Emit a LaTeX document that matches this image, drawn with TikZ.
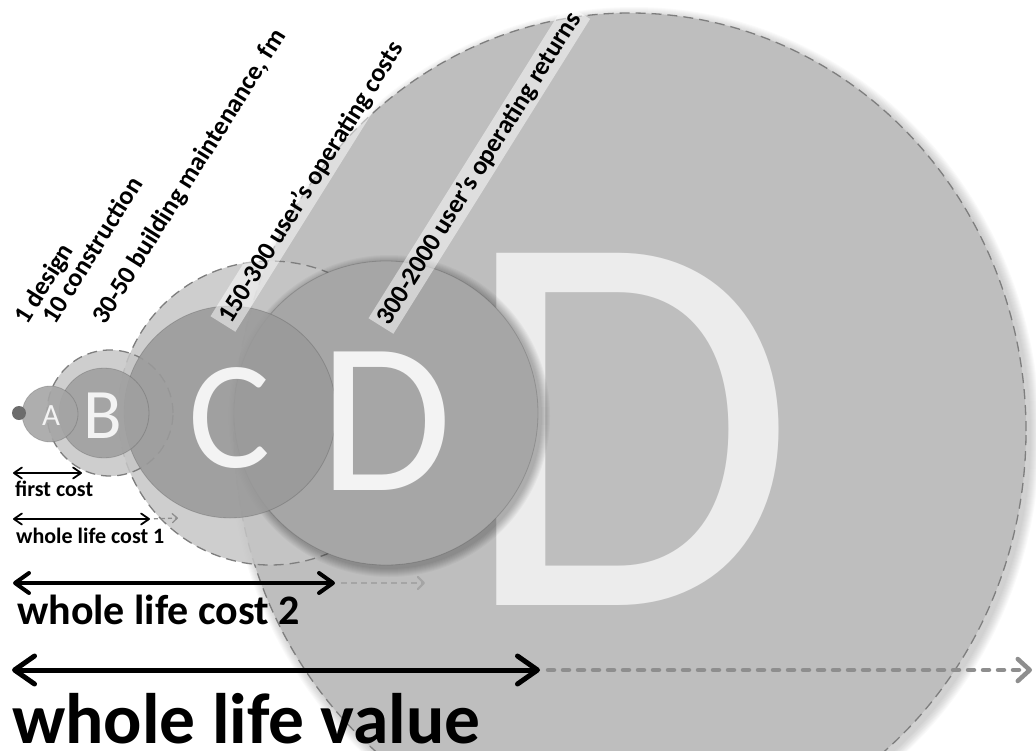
\documentclass[tikz,border=0pt]{standalone}
\usepackage{fontspec}
\setmainfont{Carlito}
\usetikzlibrary{arrows.meta}
\newcommand\fsz[1]{\fontsize{#1pt}{#1pt}\selectfont}
\definecolor{outerfill}{HTML}{BEBEBE}
\definecolor{ringfill}{HTML}{C6C6C6}
\definecolor{dashcol}{HTML}{7E7E7E}
\definecolor{cfill}{HTML}{9A9A9A}
\definecolor{dfill}{HTML}{A6A6A6}
\definecolor{bfill}{HTML}{A0A0A0}
\definecolor{afill}{HTML}{A5A5A5}
\definecolor{dotfill}{HTML}{6C6C6C}
\definecolor{glyph}{HTML}{F3F3F3}
\definecolor{bigglyph}{HTML}{ECECEC}
\definecolor{extgrey}{HTML}{8E8E8E}
\begin{document}
\begin{tikzpicture}[x=1pt,y=-1pt,
  ring/.style={fill=ringfill, fill opacity=0.85, draw=dashcol, line width=1.3pt, dash pattern=on 10pt off 6pt},
  disc/.style={draw=black, draw opacity=0.15, line width=0.8pt},
  letter/.style={text=glyph, inner sep=0pt, anchor=base},
  phase/.style={font={\bfseries\fsz{26}}, rotate=58, anchor=base west, inner sep=0pt},
  band/.style={phase, fill=white, fill opacity=0.5, text opacity=1, inner xsep=4pt, inner ysep=3pt},
  costarrS/.style={line width=1.8pt, line cap=round, {Straight Barb[round,length=8pt,width=11pt]}-{Straight Barb[round,length=8pt,width=11pt]}},
  costarrM/.style={line width=4pt, line cap=round, {Straight Barb[round,length=14pt,width=20pt]}-{Straight Barb[round,length=14pt,width=20pt]}},
  costarrL/.style={line width=5pt, line cap=round, {Straight Barb[round,length=20pt,width=28pt]}-{Straight Barb[round,length=20pt,width=28pt]}},
  extS/.style={draw=extgrey, line width=1.3pt, dash pattern=on 4pt off 3pt, -{Straight Barb[round,length=5pt,width=9pt]}},
  extM/.style={draw=extgrey!80!white, line width=2.2pt, dash pattern=on 6pt off 4pt, -{Straight Barb[round,length=6pt,width=12pt]}},
  extL/.style={draw=extgrey, line width=4.5pt, line cap=round, dash pattern=on 6pt off 9pt, -{Straight Barb[round,length=12pt,width=22pt]}},
  caption/.style={anchor=base west, inner sep=0pt, text depth=0pt},
]
\useasboundingbox (0,0) rectangle (1036,750);

% soft shadow and body of the outer value field
\foreach \k in {1,...,10}
  \fill[black, opacity=0.018] (634,435) ellipse [x radius={396pt+\k*1pt}, y radius={418pt+\k*1pt}];
\fill[outerfill] (630,431) ellipse [x radius=396pt, y radius=418pt];
\node[letter, text=bigglyph, font=\fsz{549}] (Dbig) at (628,605) {D};
\draw[dashcol, line width=1.3pt, dash pattern=on 10pt off 6pt] (630,431) ellipse [x radius=396pt, y radius=418pt];

% dashed upper ranges
\draw[ring] (270,413) circle (152pt);
\draw[ring] (110,413) circle (63pt);

% solid discs
\foreach \k in {1,...,9}
  \fill[black, opacity=0.03] (389,416) circle ({152pt+\k*1pt});
\filldraw[disc, fill=dfill] (386,413) circle (152pt);
\filldraw[disc, fill=cfill, fill opacity=0.88] (230,412) circle (106pt);
\filldraw[disc, fill=bfill, fill opacity=0.9] (104,413) circle (45pt);
\filldraw[disc, fill=afill, fill opacity=0.9] (50,414) circle (28pt);
\fill[dotfill] (19,413) circle (7pt);

% letters
\node[letter, font=\fsz{216}] (Dmid) at (386,490) {D};
\node[letter, font=\fsz{154}] (Cl) at (230,467) {C};
\node[letter, font=\fsz{71}] (Bl) at (103,438) {B};
\node[letter, font=\fsz{31}] (Al) at (51,425) {A};

% phase labels
\node[phase] (p1) at (27,326) {1 design};
\node[phase] (p2) at (55,326) {10 construction};
\node[phase] (p3) at (105,326) {30-50 building maintenance, fm};
\node[band] (p4) at (229,328) {150-300 user's operating costs};
\node[band] (p5) at (387,330) {300-2000 user's operating returns};

% cost spans
\coordinate (fcL) at (13,473);
\coordinate (fcR) at (82,473);
\draw[costarrS] (fcL) -- (fcR);
\node[caption, font={\bfseries\fsz{22}}] (fcT) at (15,496) {first cost};

\coordinate (w1L) at (13,519);
\coordinate (w1R) at (150,519);
\coordinate (w1X) at (178,518);
\draw[costarrS] (w1L) -- (w1R);
\draw[extS, shorten <=4pt] (w1R) -- (w1X);
\node[caption, font={\bfseries\fsz{22}}] (w1T) at (16,543) {whole life cost 1};

\coordinate (w2L) at (13,583);
\coordinate (w2R) at (335,583);
\coordinate (w2X) at (425,583);
\draw[costarrM] (w2L) -- (w2R);
\draw[extM, shorten <=6pt] (w2R) -- (w2X);
\node[caption, font={\bfseries\fsz{42}}] (w2T) at (17,624) {whole life cost 2};

\coordinate (wvL) at (12,670);
\coordinate (wvR) at (540,670);
\coordinate (wvX) at (1032,670);
\draw[costarrL] (wvL) -- (wvR);
\draw[extL, shorten <=8pt] (wvR) -- (wvX);
\node[caption, font={\bfseries\fsz{71.5}}] (wvT) at (12,743) {whole life value};
\end{tikzpicture}
\end{document}
